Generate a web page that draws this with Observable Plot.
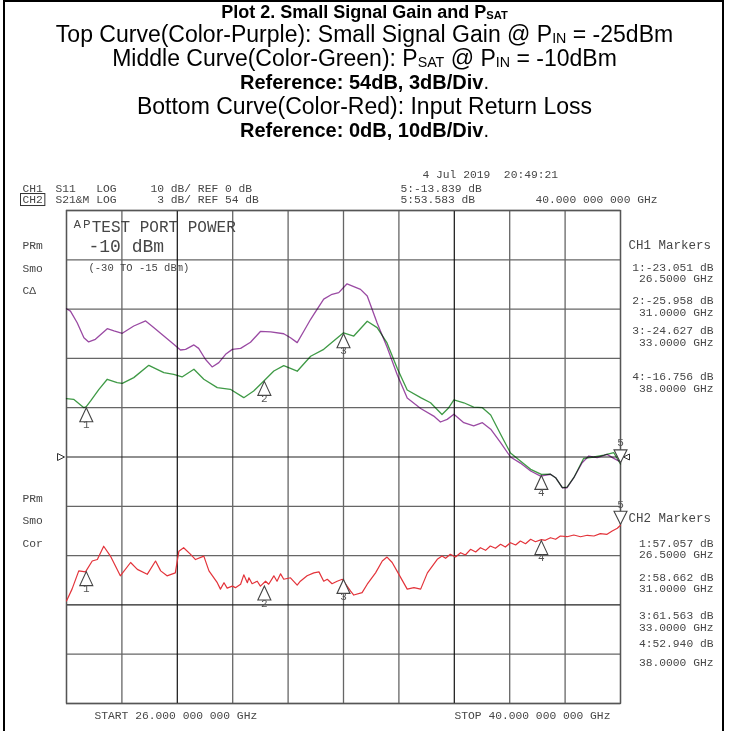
<!DOCTYPE html>
<html><head><meta charset="utf-8">
<script src="https://cdn.jsdelivr.net/npm/d3@7"></script>
<script src="https://cdn.jsdelivr.net/npm/@observablehq/plot@0.6"></script>
<style>
html,body{margin:0;padding:0;background:#fff;}
#page{position:relative;width:729px;height:731px;overflow:hidden;background:#fff;}
#frame{position:absolute;left:3px;top:0;width:721px;height:731px;border-left:2px solid #000;border-right:2px solid #000;border-top:2px solid #000;box-sizing:border-box;z-index:2;pointer-events:none}
.hl{position:absolute;left:0;width:729px;text-align:center;font-family:"Liberation Sans",Arial,sans-serif;color:#000;white-space:nowrap;line-height:1;}
.b{font-weight:bold}
.s{font-size:0.62em;vertical-align:-0.05em}
#chart{position:absolute;left:0;top:150px;}
</style></head>
<body><div id="page">
<div id="frame"></div>
<div class="hl b" style="top:3px;font-size:18px">Plot 2. Small Signal Gain and P<span class="s">SAT</span></div>
<div class="hl" style="top:23px;font-size:23px">Top Curve(Color-Purple): Small Signal Gain @ P<span class="s">IN</span> = -25dBm</div>
<div class="hl" style="top:47px;font-size:23px">Middle Curve(Color-Green): P<span class="s">SAT</span> @ P<span class="s">IN</span> = -10dBm</div>
<div class="hl" style="top:72px;font-size:20px"><span class="b">Reference: 54dB, 3dB/Div</span>.</div>
<div class="hl" style="top:95px;font-size:23px">Bottom Curve(Color-Red): Input Return Loss</div>
<div class="hl" style="top:120px;font-size:20px"><span class="b">Reference: 0dB, 10dB/Div</span>.</div>
<div id="chart"></div>
</div>
<script>
// ---------- data ----------
const freqStart = 26, freqStop = 40;            // GHz
const ch2Ref = 54, ch2PerDiv = 3;               // S21 (purple & green)
const ch1Ref = 0, ch1PerDiv = 10;               // S11 (red)

const purpleFreq = [26.00,26.10,26.27,26.44,26.56,26.73,27.03,27.20,27.41,27.70,28.00,28.21,28.46,28.71,28.88,29.01,29.22,29.34,29.51,29.68,29.85,30.02,30.19,30.40,30.65,30.90,31.16,31.49,31.66,31.83,32.00,32.17,32.25,32.50,32.71,32.88,33.09,33.26,33.43,33.60,33.85,34.10,34.36,34.61,34.95,35.28,35.45,35.62,35.79,36.04,36.29,36.51,36.72,36.97,37.22,37.47,37.73,37.98,38.23,38.36,38.53,38.65,38.82,39.03,39.20,39.41,39.66,39.83,40.00];
const purpleGain = [63.02,62.88,62.17,61.26,61.00,61.16,61.81,61.67,61.53,61.97,62.28,61.87,61.36,60.86,60.51,60.55,60.82,60.61,59.95,59.48,59.74,60.25,60.55,60.61,60.98,61.64,61.61,61.50,61.26,60.96,61.67,62.38,62.68,63.61,63.90,64.00,64.54,64.37,64.20,63.80,62.15,60.69,58.99,57.59,56.95,56.49,56.13,56.29,56.60,56.09,55.89,56.09,55.69,54.87,54.00,53.63,53.15,52.84,52.95,52.74,52.13,52.13,52.74,53.65,54.06,53.96,54.16,53.92,53.70];

const greenFreq = [26.00,26.18,26.44,26.50,26.61,26.82,27.03,27.28,27.41,27.70,28.08,28.46,28.71,28.92,29.22,29.47,29.81,30.14,30.48,30.73,31.00,31.24,31.49,31.83,32.17,32.50,32.75,33.00,33.26,33.60,33.85,34.10,34.36,34.61,34.95,35.20,35.49,35.66,35.79,36.04,36.29,36.51,36.72,36.97,37.22,37.47,37.73,38.00,38.23,38.36,38.53,38.65,38.82,39.07,39.33,39.58,39.83,40.00];
const greenPsat = [57.55,57.51,57.00,57.06,57.41,58.12,58.73,58.52,58.48,58.83,59.58,59.13,59.03,58.87,59.34,58.73,58.22,58.12,57.61,58.02,58.66,59.23,59.56,59.22,60.13,60.55,61.06,61.56,61.36,62.26,61.87,60.94,59.39,58.08,57.61,57.30,56.59,57.00,57.47,57.30,57.04,57.00,56.56,55.38,54.24,53.76,53.25,52.94,52.95,52.74,52.13,52.17,52.74,53.92,54.00,54.12,54.26,53.58];

const redFreq = [26.00,26.14,26.31,26.48,26.65,26.78,26.94,27.11,27.36,27.62,27.79,28.04,28.25,28.38,28.54,28.75,28.84,28.96,29.13,29.26,29.47,29.60,29.81,29.89,29.98,30.06,30.19,30.27,30.40,30.48,30.57,30.61,30.69,30.82,30.90,31.03,31.11,31.24,31.32,31.41,31.49,31.66,31.83,31.91,32.08,32.25,32.38,32.50,32.59,32.71,32.84,32.97,33.18,33.26,33.47,33.60,33.81,33.98,34.10,34.23,34.40,34.61,34.78,34.95,35.12,35.37,35.49,35.58,35.70,35.83,35.96,36.08,36.21,36.34,36.46,36.59,36.71,36.84,36.97,37.09,37.22,37.35,37.47,37.60,37.73,37.85,38.00,38.10,38.23,38.36,38.48,38.65,38.82,38.99,39.16,39.33,39.49,39.66,39.79,39.92,40.00];
const redLoss = [-29.2,-26.8,-23.1,-23.3,-21.1,-20.8,-18.1,-20.1,-24.1,-21.4,-22.8,-23.8,-21.1,-23.1,-24.1,-23.5,-19.1,-18.4,-19.7,-20.8,-20.1,-23.1,-25.5,-26.8,-25.5,-26.6,-26.2,-26.5,-25.8,-23.9,-25.5,-24.5,-25.7,-25.2,-26.2,-25.2,-25.8,-24.1,-25.2,-23.7,-24.8,-24.5,-26.0,-25.2,-24.1,-23.5,-23.3,-25.2,-24.8,-25.7,-25.2,-24.8,-27.2,-28.0,-27.5,-25.8,-23.5,-21.1,-20.3,-21.4,-23.8,-26.8,-26.5,-26.8,-23.5,-20.75,-20.1,-20.55,-19.74,-20.28,-19.41,-19.88,-18.72,-19.27,-18.40,-18.93,-18.05,-18.52,-17.71,-18.26,-17.38,-17.85,-17.04,-17.58,-16.69,-17.18,-16.76,-16.90,-16.37,-16.69,-16.02,-16.17,-15.82,-16.17,-15.88,-16.02,-15.55,-15.68,-15.01,-14.46,-13.84];

const markerIds   = ["1","2","3","4","5"];
const markerFreq  = [26.5, 31.0, 33.0, 38.0, 40.0];
const ch1MarkerDb = [-23.051, -25.958, -24.627, -16.756, -13.839];
const ch2MarkerDb = [57.057, 58.662, 61.563, 52.940, 53.583];
const markerFreqLabels = ["26.5000 GHz","31.0000 GHz","33.0000 GHz","38.0000 GHz"];

// ---------- build ----------
const toDivCh2 = v => (v - ch2Ref) / ch2PerDiv;
const toDivCh1 = v => (v - ch1Ref) / ch1PerDiv;
const purple = purpleFreq.map((f,i)=>({f, d: toDivCh2(purpleGain[i])}));
const green  = greenFreq.map((f,i)=>({f, d: toDivCh2(greenPsat[i])}));
const red    = redFreq.map((f,i)=>({f, d: toDivCh1(redLoss[i])}));
const mk2 = markerIds.map((id,i)=>({id, f: markerFreq[i], d: toDivCh2(ch2MarkerDb[i])}));
const mk1 = markerIds.map((id,i)=>({id, f: markerFreq[i], d: toDivCh1(ch1MarkerDb[i])}));
const up = mk => mk.filter(m => m.id !== "5");
const dn = mk => mk.filter(m => m.id === "5");

const xGrid = d3.range(0, 11).map(i => freqStart + i * (freqStop - freqStart) / 10);
const yGrid = d3.range(-5, 6);
const darkX = [xGrid[2], xGrid[7]];
const darkY = [0, -3];

const triUp = {draw(c){ c.moveTo(0,1); c.lineTo(6.5,15); c.lineTo(-6.5,15); c.closePath(); }};
const triDown = {draw(c){ c.moveTo(0,-1); c.lineTo(6.5,-14); c.lineTo(-6.5,-14); c.closePath(); }};
const refRight = {draw(c){ c.moveTo(-9,-3.5); c.lineTo(-2,0); c.lineTo(-9,3.5); c.closePath(); }};
const refLeft = {draw(c){ c.moveTo(9,-3); c.lineTo(3,0); c.lineTo(9,3); c.closePath(); }};

const TXT = "#464646";
const FT = 66, FTOP = 215; // frame origin on the page (text-centre correction included)
const nb = s => s.replace(/ /g, "\u00A0");
const note = (str, px, py, o = {}) => Plot.text([nb(str)], {
  frameAnchor: "top-left", text: d => d, dx: px - FT, dy: py - FTOP,
  textAnchor: o.anchor || "start", fontSize: o.size || 11.3, fill: TXT,
  fontFamily: "Liberation Mono, DejaVu Sans Mono, monospace"
});

const notes = [
  note("4 Jul 2019  20:49:21", 422, 174),
  note("CH1", 22, 188),
  note("S11   LOG     10 dB/ REF 0 dB", 55, 188),
  note("5:-13.839 dB", 400, 188),
  note("CH2", 22, 199),
  note("S21&M LOG      3 dB/ REF 54 dB", 55, 199),
  note("5:53.583 dB", 400, 199),
  note("40.000 000 000 GHz", 535, 199),
  note("\u1D2C\u1D3ETEST PORT POWER", 72, 225, {size: 16}),
  note("-10 dBm", 88, 244, {size: 18}),
  note("PRm", 22, 245), note("Smo", 22, 268), note("C\u0394", 22, 290),
  note("(-30 TO -15 dBm)", 88, 268, {size: 10.5}),
  note("PRm", 22, 498), note("Smo", 22, 520), note("Cor", 22, 543),
  note("CH1 Markers", 628, 245, {size: 12.5}),
  note("CH2 Markers", 628, 518, {size: 12.5}),
  note("START 26.000 000 000 GHz", 94, 715),
  note("STOP 40.000 000 000 GHz", 454, 715)
];
const ch1ListY = [[267,278],[300,312],[330,342],[376,388]];
const ch2ListY = [[543,554],[577,588],[615,627],[643,662]];
[0,1,2,3].forEach(i => {
  notes.push(note(`${markerIds[i]}:${ch1MarkerDb[i].toFixed(3)} dB`, 713, ch1ListY[i][0], {anchor: "end"}));
  notes.push(note(markerFreqLabels[i], 713, ch1ListY[i][1], {anchor: "end"}));
  notes.push(note(`${markerIds[i]}:${ch2MarkerDb[i].toFixed(3)} dB`, 713, ch2ListY[i][0], {anchor: "end"}));
  notes.push(note(markerFreqLabels[i], 713, ch2ListY[i][1], {anchor: "end"}));
});

const markerMarks = mk => [
  Plot.dot(up(mk), {x: "f", y: "d", symbol: triUp, stroke: "#444", fill: "white", strokeWidth: 1.1}),
  Plot.text(up(mk), {x: "f", y: "d", text: "id", dy: 18, fontSize: 11, fill: "#555", fontFamily: "Liberation Mono, monospace"}),
  Plot.dot(dn(mk), {x: "f", y: "d", symbol: triDown, stroke: "#444", fill: "white", strokeWidth: 1.1}),
  Plot.text(dn(mk), {x: "f", y: "d", text: "id", dy: -21, fontSize: 11, fill: "#555", fontFamily: "Liberation Mono, monospace"})
];

const chart = Plot.plot({
  width: 729, height: 581,
  marginTop: 60, marginBottom: 28, marginLeft: 66, marginRight: 109,
  x: {domain: [freqStart, freqStop], axis: null},
  y: {domain: [-5, 5], axis: null},
  style: {background: "transparent", overflow: "visible"},
  marks: [
    Plot.ruleX(xGrid.filter(v => !darkX.includes(v)), {stroke: "#666", strokeWidth: 1.3}),
    Plot.ruleY(yGrid.filter(v => !darkY.includes(v)), {stroke: "#666", strokeWidth: 1.3}),
    Plot.ruleX(darkX, {stroke: "#111", strokeWidth: 1.2}),
    Plot.ruleY(darkY, {stroke: "#222", strokeWidth: 1.2}),
    Plot.frame({stroke: "#555", strokeWidth: 1.3}),
    Plot.dot([{f: freqStart, d: 0}], {x: "f", y: "d", symbol: refRight, stroke: "#333", fill: "white", strokeWidth: 1}),
    Plot.dot([{f: freqStop, d: 0}], {x: "f", y: "d", symbol: refLeft, stroke: "#333", fill: "white", strokeWidth: 1}),
    Plot.line(red, {x: "f", y: "d", stroke: "#e3333a", strokeWidth: 1.2}),
    Plot.line(purple, {x: "f", y: "d", stroke: "#9a4aa3", strokeWidth: 1.3, mixBlendMode: "multiply"}),
    Plot.line(green, {x: "f", y: "d", stroke: "#3f9a46", strokeWidth: 1.3, mixBlendMode: "multiply"}),
    ...markerMarks(mk2),
    ...markerMarks(mk1),
    ...notes
  ]
});
document.getElementById("chart").appendChild(chart);

// box around CH2, underline CH1
const svgBox = chart.getBoundingClientRect();
d3.select(chart).selectAll("text").each(function() {
  const t = this.textContent;
  if (t === "CH2" || t === "CH1") {
    const b = this.getBoundingClientRect();
    if (t === "CH2") {
      d3.select(chart).append("rect")
        .attr("x", b.left - svgBox.left - 2).attr("y", b.top - svgBox.top)
        .attr("width", b.width + 4).attr("height", b.height)
        .attr("fill", "none").attr("stroke", "#333").attr("stroke-width", 1);
    } else {
      d3.select(chart).append("line")
        .attr("x1", b.left - svgBox.left).attr("x2", b.right - svgBox.left)
        .attr("y1", b.bottom - svgBox.top - 1).attr("y2", b.bottom - svgBox.top - 1)
        .attr("stroke", "#333").attr("stroke-width", 1);
    }
  }
});
</script>
</body></html>
